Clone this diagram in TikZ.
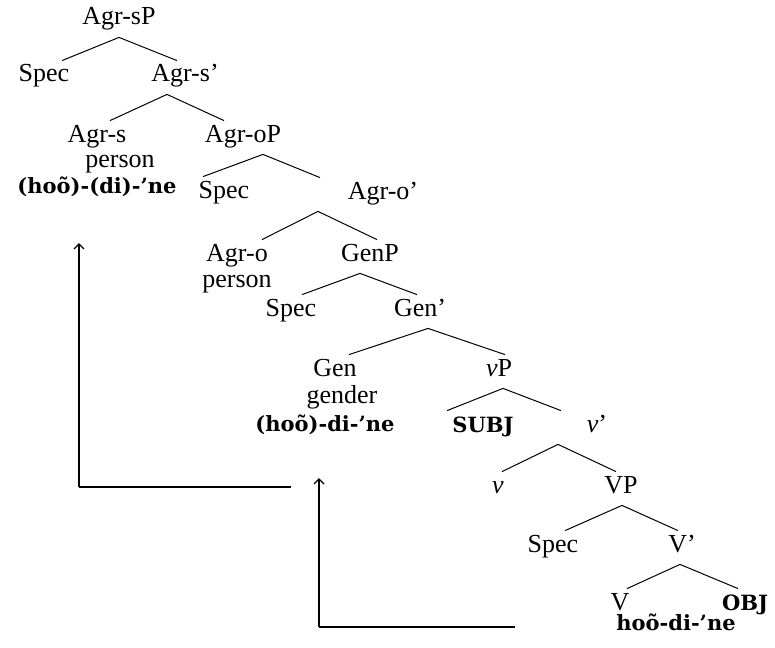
\documentclass[tikz,border=0pt]{standalone}
\usepackage{fontspec}
\setmainfont{Liberation Serif}
\newfontfamily\morphfont{DejaVu Serif}
\usetikzlibrary{calc,arrows.meta}

\tikzset{
  lab/.style={anchor=base, inner sep=0pt, text height=10.5pt, text depth=6pt,
    font=\fontsize{13}{15}\selectfont},
  morph/.style={lab, font=\morphfont\bfseries\fontsize{10.5}{12}\selectfont},
  branch/.style={line width=0.5pt},
  move/.style={line width=1pt},
  movetip/.style={line width=0.7pt, -{Straight Barb[length=2.5pt,width=5pt]}},
}

\begin{document}
\begin{tikzpicture}[x=0.5pt, y=-0.5pt]
    \useasboundingbox (0,0) rectangle (775,647);

    \node[lab] (agrsP)   at (119,25)  {Agr-sP};
    \node[lab] (specA)   at (44,82)   {Spec};
    \node[lab] (agrsbar) at (185,82)  {Agr-s’};
    \node[lab] (agrs)    at (97,142)  {Agr-s};
    \node[lab] (persA)   at (120,167) {person};
    \node[morph] (morphA) at (97,193) {(hoõ)-(di)-’ne};
    \node[lab] (agroP)   at (243,142) {Agr-oP};
    \node[lab] (specB)   at (224,198) {Spec};
    \node[lab] (agrobar) at (383,199) {Agr-o’};
    \node[lab] (agro)    at (237,261) {Agr-o};
    \node[lab] (persB)   at (237,287) {person};
    \node[lab] (genP)    at (370,261) {GenP};
    \node[lab] (specC)   at (291,316) {Spec};
    \node[lab] (genbar)  at (420,316) {Gen’};
    \node[lab] (gen)     at (335,376) {Gen};
    \node[lab] (gend)    at (342,403) {gender};
    \node[morph] (morphB) at (325,431) {(hoõ)-di-’ne};
    \node[lab] (vP)      at (499,376) {\textit{v}P};
    \node[morph] (subj)  at (483,432) {SUBJ};
    \node[lab] (vbar)    at (597,432) {\textit{v}’};
    \node[lab] (v)       at (498,493) {\textit{v}};
    \node[lab] (VP)      at (621,493) {VP};
    \node[lab] (specD)   at (553,552) {Spec};
    \node[lab] (Vbar)    at (682,552) {V’};
    \node[lab] (V)       at (620,610) {V};
    \node[morph] (obj)   at (745,610) {OBJ};
    \node[morph] (morphC) at (676,630) {hoõ-di-’ne};

    % left child / parent / right child, with x offsets
    \foreach \l/\dl/\p/\dp/\r/\dr in {specA/18/agrsP/0/agrsbar/-8,
        agrs/13/agrsbar/-18/agroP/-19,
        specB/-21/agroP/20/agrobar/-63,
        agro/25/agrobar/-65/genP/7,
        specC/11/genP/-10/genbar/-3,
        gen/14/genbar/8/vP/6,
        subj/-36/vP/4/vbar/-36,
        v/4/vbar/-39/VP/-5,
        specD/12/VP/1/Vbar/-4,
        V/7/Vbar/-2/obj/-7}
    \draw[branch] ($(\l.north)+(\dl,0)$) -- ($(\p.south)+(\dp,0)$) -- ($(\r.north)+(\dr,0)$);

    \coordinate (tailA) at (291,487);
    \coordinate (bendA) at (79,487);
    \coordinate (tipA)  at (79,243);
    \coordinate (tailB) at (515,627);
    \coordinate (bendB) at (319,627);
    \coordinate (tipB)  at (319,478);

    \draw[move] (tailA) -- (bendA);
    \draw[movetip] (bendA) -- (tipA);
    \draw[move] (tailB) -- (bendB);
    \draw[movetip] (bendB) -- (tipB);

\end{tikzpicture}
\end{document}
